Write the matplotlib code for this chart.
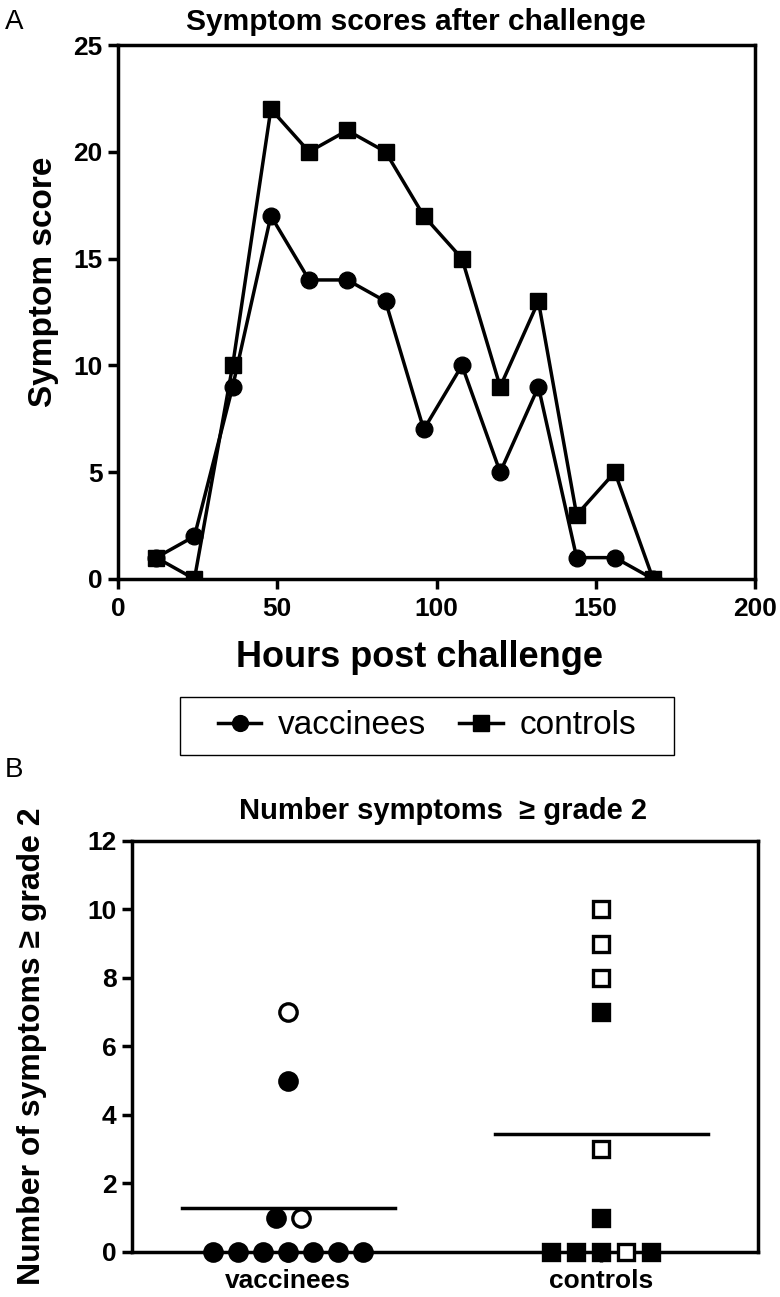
import matplotlib
matplotlib.use("Agg")
import matplotlib.pyplot as plt
from matplotlib.patches import Rectangle
import numpy as np

# ---- Panel A data ----
hours = [12, 24, 36, 48, 60, 72, 84, 96, 108, 120, 132, 144, 156, 168]
vaccinees_score = [1, 2, 9, 17, 14, 14, 13, 7, 10, 5, 9, 1, 1, 0]
controls_score = [1, 0, 10, 22, 20, 21, 20, 17, 15, 9, 13, 3, 5, 0]

# ---- Panel B data ----
groups = ["vaccinees", "controls"]
vacc_counts = [0, 0, 0, 0, 0, 0, 0, 1, 1, 5, 7]
vacc_open = [False, False, False, False, False, False, False, False, True, False, True]
vacc_offset = [-3, -2, -1, 0, 1, 2, 3, -0.5, 0.5, 0, 0]
ctrl_counts = [0, 0, 0, 0, 0, 1, 3, 7, 8, 9, 10]
ctrl_open = [False, False, False, True, False, False, True, False, True, True, True]
ctrl_offset = [-2, -1, 0, 1, 2, 0, 0, 0, 0, 0, 0]

SANS = ['Liberation Sans', 'DejaVu Sans']
plt.rcParams['font.family'] = SANS

W, H = 780, 1297
fig = plt.figure(figsize=(7.8, 12.97), dpi=100)

LW = 2.5
# ---- Panel A ----
axA = fig.add_axes([118 / W, 0.5536, (755 - 118) / W, 0.4117])
lv, = axA.plot(hours, vaccinees_score, color='black', lw=LW, marker='o', ms=12,
               label='vaccinees', zorder=3)
lc, = axA.plot(hours, controls_score, color='black', lw=LW, marker='s', ms=12,
               label='controls', zorder=4)
axA.set_xlim(0, 200)
axA.set_ylim(0, 25)
axA.set_xticks([0, 50, 100, 150, 200])
axA.set_yticks([0, 5, 10, 15, 20, 25])
for s in axA.spines.values():
    s.set_linewidth(LW)
axA.tick_params(direction='out', length=7, width=LW, labelsize=19, pad=4)
axA.tick_params(axis='x', pad=6)
for lab in axA.get_xticklabels() + axA.get_yticklabels():
    lab.set_fontweight('bold')
fig.text(0.533, 0.983, 'Symptom scores after challenge', fontsize=21.5,
         fontweight='bold', ha='center', va='center')
axA.set_xlabel('Hours post challenge', fontsize=26, fontweight='bold')
axA.xaxis.set_label_coords(0.474, -0.115)
axA.set_ylabel('Symptom score', fontsize=24, fontweight='bold')
axA.yaxis.set_label_coords(-0.092, 0.556)
fig.text(0.006, 0.983, 'A', fontsize=20, va='center')

leg = fig.legend(handles=[lv, lc], loc='center', bbox_to_anchor=(427 / W, 1 - 726 / H),
                 ncol=2, fontsize=24, frameon=False, handlelength=1.3,
                 columnspacing=1.0, handletextpad=0.5, markerscale=0.95)
fig.patches.append(Rectangle((180 / W, 1 - 755 / H), (674 - 180) / W, 58 / H,
                             transform=fig.transFigure, fill=False,
                             edgecolor='black', linewidth=1.0))

# ---- Panel B ----
axB = fig.add_axes([0.169, 0.0347, 0.8026, 0.3169])
step = 0.08
for i, (counts, opens, offs, mk) in enumerate([(vacc_counts, vacc_open, vacc_offset, 'o'),
                                               (ctrl_counts, ctrl_open, ctrl_offset, 's')]):
    for c, o, d in zip(counts, opens, offs):
        axB.plot(i + d * step, c, marker=mk, ms=12.5 if mk == 'o' else 12,
                 mfc='white' if o else 'black', mec='black', mew=2.4,
                 ls='none', clip_on=False, zorder=4)
    m = np.mean(counts)
    axB.plot([i - 0.34, i + 0.34], [m, m], color='black', lw=LW, zorder=3)
axB.set_xlim(-0.5, 1.5)
axB.set_ylim(0, 12)
axB.set_xticks([0, 1])
axB.set_xticklabels(groups)
axB.set_yticks([0, 2, 4, 6, 8, 10, 12])
for s in axB.spines.values():
    s.set_linewidth(LW)
axB.tick_params(direction='out', length=7, width=LW, labelsize=19, pad=4)
for lab in axB.get_yticklabels():
    lab.set_fontweight('bold')
for lab in axB.get_xticklabels():
    lab.set_fontweight('bold')
    lab.set_fontsize(19)
axB.tick_params(axis='x', pad=5)
fig.text(0.568, 1 - 811 / H, 'Number symptoms  \u2265 grade 2', fontsize=21,
         fontweight='bold', ha='center', va='center')
axB.set_ylabel('Number of symptoms \u2265 grade 2', fontsize=23, fontweight='bold')
axB.yaxis.set_label_coords(-0.135, 0.5)
fig.text(0.006, 1 - 770 / H, 'B', fontsize=20, va='center')

fig.savefig('out.png', dpi=100)
